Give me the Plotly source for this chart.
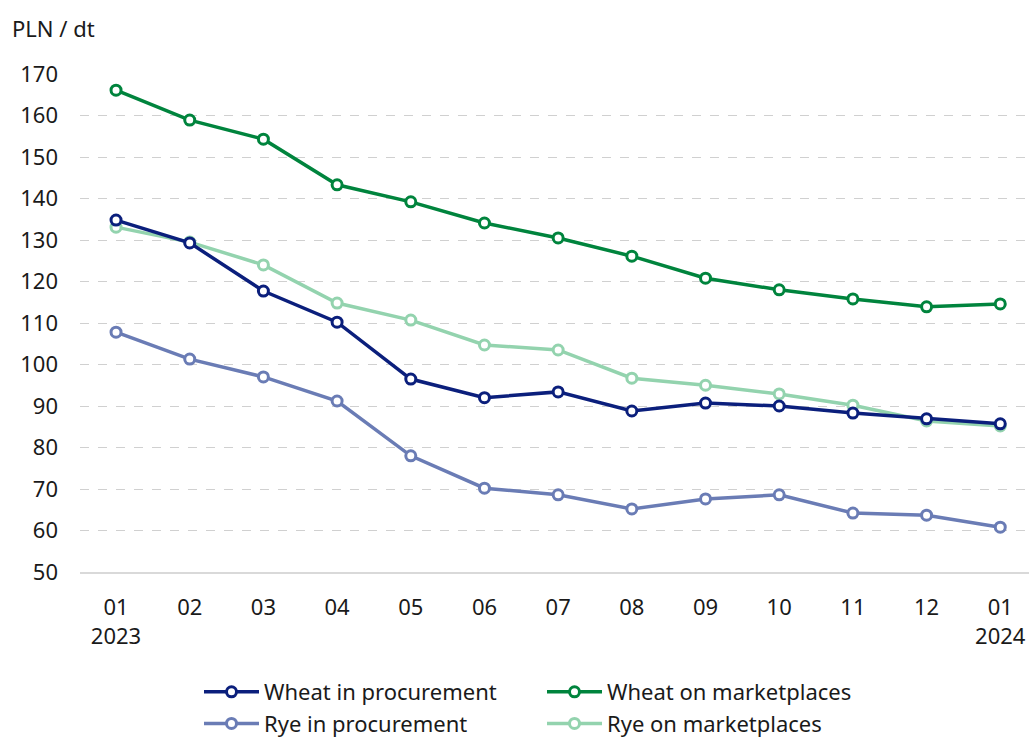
import plotly.graph_objects as go

months = ["01<br>2023", "02", "03", "04", "05", "06", "07", "08", "09", "10", "11", "12", "01<br>2024"]
wheat_proc = [134.8, 129.3, 117.7, 110.2, 96.5, 92.0, 93.4, 88.8, 90.7, 90.0, 88.3, 86.9, 85.7]
wheat_market = [166.1, 158.9, 154.3, 143.3, 139.2, 134.1, 130.5, 126.1, 120.8, 118.0, 115.8, 113.9, 114.6]
rye_proc = [107.8, 101.3, 97.0, 91.2, 78.0, 70.2, 68.6, 65.2, 67.6, 68.6, 64.2, 63.7, 60.8]
rye_market = [133.1, 129.5, 124.0, 114.8, 110.7, 104.7, 103.5, 96.7, 95.0, 92.9, 90.2, 86.4, 85.2]

x = list(range(len(months)))
FONT = "Noto Sans"
FS = 22
W, H = 1029, 738
L, R, T, B = 80, 0, 74, 166
PW = W - L - R
PH = H - T - B

fig = go.Figure()

def add(name, vals, color, legend):
    fig.add_trace(go.Scatter(
        x=x, y=vals, name=name, mode="lines+markers",
        line=dict(color=color, width=3.5),
        marker=dict(symbol="circle", size=10, color="white", line=dict(color=color, width=3)),
        legend=legend,
    ))

add("Rye on marketplaces", rye_market, "#93d3ae", "legend2")
add("Rye in procurement", rye_proc, "#6a7cb5", "legend")
add("Wheat on marketplaces", wheat_market, "#00843d", "legend2")
add("Wheat in procurement", wheat_proc, "#0b1f7c", "legend")

legend_common = dict(
    orientation="v", yanchor="top", xanchor="left",
    xref="container", yref="container",
    font=dict(family=FONT, size=FS, color="#1a1a1a"),
    itemwidth=55, tracegroupgap=0, bgcolor="rgba(0,0,0,0)",
    traceorder="reversed",
)

fig.update_layout(
    width=W, height=H,
    margin=dict(l=L, r=R, t=T, b=B, autoexpand=False),
    paper_bgcolor="white", plot_bgcolor="white",
    font=dict(family=FONT, size=FS, color="#1a1a1a"),
    xaxis=dict(
        tickmode="array", tickvals=x, ticktext=months,
        range=[-0.489, 12.39], showgrid=False, zeroline=False,
        showline=True, linecolor="#d9d9d9", linewidth=2,
        ticks="", ticklabelstandoff=15, automargin=False,
        tickfont=dict(family=FONT, size=FS, color="#1a1a1a"),
    ),
    yaxis=dict(
        range=[50, 170], tickvals=list(range(50, 171, 10)),
        showgrid=True, gridcolor="#d0d0d0", griddash="dash", gridwidth=1,
        zeroline=False, showline=False, ticks="", ticklabelstandoff=21,
        automargin=False,
        tickfont=dict(family=FONT, size=FS, color="#1a1a1a"),
    ),
    legend=dict(x=199 / W, y=1 - 671 / H, **legend_common),
    legend2=dict(x=542 / W, y=1 - 671 / H, **legend_common),
    annotations=[dict(
        text="PLN / dt", xref="paper", yref="paper",
        x=(10 - L) / PW, y=1 + (T - 28) / PH, xanchor="left", yanchor="middle",
        showarrow=False, font=dict(family=FONT, size=FS, color="#1a1a1a"),
    )],
)

fig.write_html(
    "out.html",
    config={"displayModeBar": False},
    post_script="document.body.style.margin='0';document.body.style.overflow='hidden';",
)
